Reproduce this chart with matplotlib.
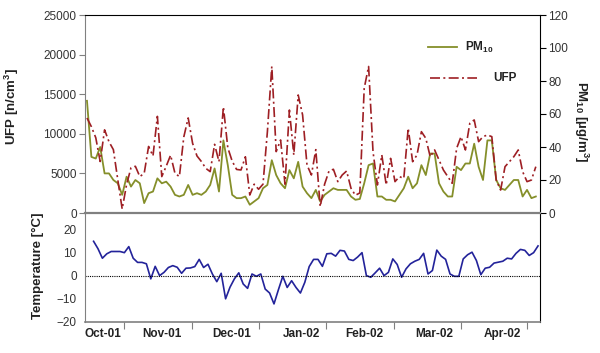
import matplotlib
matplotlib.use('Agg')
import matplotlib.pyplot as plt
import numpy as np
from matplotlib.lines import Line2D

plt.rcParams['font.family'] = ['Liberation Sans', 'DejaVu Sans']
plt.rcParams['mathtext.fontset'] = 'custom'
plt.rcParams['mathtext.rm'] = 'Liberation Sans:bold'
plt.rcParams['mathtext.bf'] = 'Liberation Sans:bold'
plt.rcParams['mathtext.default'] = 'bf'

# ---- data (2-day sampling, day 0 = start of record) ----
ufp = [12000, 10900, 9500, 6500, 10500, 9000, 8000, 4200, 500, 3600,
       5700, 5900, 4600, 5000, 8400, 7200, 12200, 4600, 5900, 7300,
       5000, 4600, 9600, 12000, 8800, 7200, 6500, 5640, 5220, 8670,
       6480, 13400, 8240, 6540, 5500, 5430, 7100, 2270, 3640, 3000,
       3640, 10270, 18500, 7750, 9220, 3640, 13000, 7330, 14900, 12380,
       6060, 4800, 8000, 800, 3640, 5300, 5520, 3960, 4800, 5300,
       3120, 2240, 2530, 15750, 18500, 7750, 3540, 7330, 3540, 6900,
       3960, 4590, 4370, 10700, 6480, 7330, 10270, 9430, 7110, 7960,
       6700, 5430, 4590, 3750, 8160, 9640, 7960, 11330, 11750, 9010,
       9640, 9850, 9640, 4160, 2900, 5850, 6480, 7110, 7960, 5220,
       3960, 4160, 5850]

pm10 = [68, 34, 33, 40, 24, 24, 20, 18, 11, 22,
        16, 20, 18, 6, 12, 13, 21, 18, 19, 16,
        11, 10, 11, 17, 11, 12, 11, 13, 17, 27,
        13, 44, 29, 11, 9, 9, 10, 5, 7, 9,
        15, 17, 32, 23, 18, 15, 26, 21, 31, 16,
        12, 9, 14, 7, 11, 13, 15, 14, 14, 14,
        10, 8, 8.5, 18, 29, 30, 10, 10, 8, 8,
        7, 11, 15, 22, 15, 18, 29, 23, 36, 36,
        18, 13, 10, 10, 28, 26, 30, 30, 42, 28,
        20, 44, 44, 20, 15, 14, 17, 20, 20, 10,
        14, 9, 10]

temp = [14.8, 11.6, 7.5, 9.4, 10.4, 10.4, 10.4, 9.9, 12.5, 7.5,
        5.7, 5.7, 5.1, -1.4, 4, 0, 1.4, 3.5, 4.3, 3.6,
        1, 3.2, 3.3, 3.9, 7, 3.5, 4.9, 0.7, -2.6, 1,
        -10, -5, -1.4, 1.2, -3.6, -5.5, 0.7, -0.3, 0.7, -5.8,
        -7.5, -12.2, -6.1, -0.3, -5.1, -2.2, -5.1, -7.5, -2.9, 3.9,
        7, 7, 4, 9.4, 9.6, 8.4, 10.9, 10.6, 7, 6.5,
        8, 9.9, 0, -0.7, 1.2, 3.2, 0, 1.4, 7.2, 4.8,
        -0.7, 2.9, 5.1, 6.2, 7, 9.6, 0.7, 2.2, 11, 8.4,
        7, 0.7, -0.3, -0.3, 7.2, 9, 10.1, 6.5, 0.4, 3.2,
        3.6, 5.4, 5.8, 6.2, 7.5, 7.2, 9.6, 11.3, 10.9, 8.7,
        9.9, 12.8]

month_labels = ['Oct-01', 'Nov-01', 'Dec-01', 'Jan-02', 'Feb-02', 'Mar-02', 'Apr-02']
month_label_days = [7.3, 34.1, 65.9, 97.3, 125.9, 157.7, 188.6]
month_tick_days = [16.8, 47.7, 78.2, 108.6, 139.5, 170.0, 200.2]

days = np.arange(len(ufp)) * 2
tdays = 3 + np.arange(len(temp)) * 2

olive = '#858F2A'
red = '#9E1F24'
navy = '#23239A'
gray = '#808080'
tcol = '#333333'

fig = plt.figure(figsize=(6, 3.53), dpi=100)
W, H = 600, 353
ax = fig.add_axes([85 / W, (H - 213) / H, 455 / W, 198 / H])
ax2 = ax.twinx()
axT = fig.add_axes([85 / W, (H - 322) / H, 455 / W, 109 / H])

ax2.plot(days, pm10, color=olive, lw=1.3)
ax.plot(days, ufp, color=red, lw=1.2, dashes=(6, 2, 1.2, 2))
ax.set_zorder(ax2.get_zorder() + 1)
ax.patch.set_visible(False)

xlim = (-0.9, 205.9)
ax.set_xlim(*xlim)
ax2.set_xlim(*xlim)
ax.set_ylim(0, 25000)
ax2.set_ylim(0, 120)
ax.set_yticks(range(0, 25001, 5000))
ax2.set_yticks(range(0, 121, 20))
ax.set_xticks([])
ax.tick_params(axis='y', direction='out', length=4, color=gray, labelsize=8.5,
               labelcolor=tcol, pad=2)
ax2.tick_params(axis='y', direction='out', length=4, color='black', labelsize=8.5,
                labelcolor=tcol, pad=2)

for s in ['top', 'bottom', 'left', 'right']:
    ax2.spines[s].set_visible(False)
ax2.spines['right'].set_visible(True)
ax2.spines['right'].set_color('black')
ax.spines['right'].set_visible(False)
ax.spines['top'].set_color('black')
ax.spines['left'].set_color(gray)
ax.spines['bottom'].set_color(gray)
ax.spines['bottom'].set_linewidth(1.6)

# legend (manual, no frame)
ax.add_line(Line2D([0.754, 0.818], [0.838, 0.838], transform=ax.transAxes,
                   color=olive, lw=1.3))
ax.text(0.835, 0.838, r'PM$_{10}$', transform=ax.transAxes, va='center',
        ha='left', fontsize=8.5, fontweight='bold', color='#222222')
ax.add_line(Line2D([0.758, 0.862], [0.682, 0.682], transform=ax.transAxes,
                   color=red, lw=1.2, dashes=(6, 2, 1.2, 2)))
ax.text(0.897, 0.682, 'UFP', transform=ax.transAxes, va='center',
        ha='left', fontsize=8.5, fontweight='bold', color='#222222')

# temperature panel
axT.plot(tdays, temp, color=navy, lw=1.2)
axT.axhline(0, color='black', lw=0.8, ls=(0, (1, 1)))
axT.set_xlim(*xlim)
axT.set_ylim(-20, 27)
axT.set_yticks([-20, -10, 0, 10, 20])
axT.set_xticks(month_tick_days)
axT.set_xticklabels([''] * len(month_tick_days))
axT.set_xticks(month_label_days, minor=True)
axT.set_xticklabels(month_labels, minor=True, fontsize=8.5, fontweight='bold',
                    color='#222222')
axT.tick_params(axis='x', which='major', direction='out', length=5, color=gray)
axT.tick_params(axis='x', which='minor', length=0, pad=4)
axT.tick_params(axis='y', direction='out', length=0, labelsize=8.5,
                labelcolor=tcol, pad=6)
axT.spines['top'].set_visible(False)
axT.spines['left'].set_color(gray)
axT.spines['bottom'].set_color(gray)
axT.spines['bottom'].set_linewidth(1.2)
axT.spines['right'].set_color('black')

fig.text(12 / W, (H - 107) / H, r'UFP [n/cm$^3$]', rotation=90, ha='center',
         va='center', fontsize=9.5, fontweight='bold', color='#222222')
fig.text(581 / W, (H - 122) / H, r'PM$_{10}$ [µg/m$^3$]', rotation=270,
         ha='center', va='center', fontsize=9.5, fontweight='bold', color='#222222')
fig.text(38 / W, (H - 266) / H, 'Temperature [°C]', rotation=90, ha='center',
         va='center', fontsize=9.5, fontweight='bold', color='#222222')

fig.savefig('out.png', dpi=100)
